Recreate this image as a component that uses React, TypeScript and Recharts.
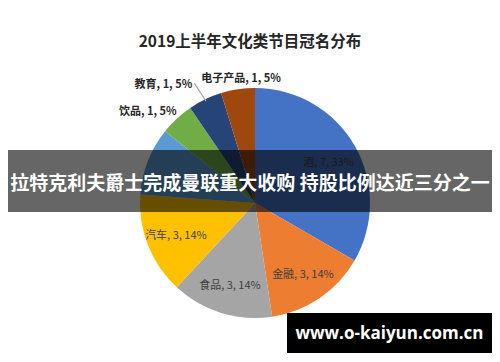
import React from "react";
import { PieChart, Pie, Cell } from "recharts";

const categories = ["酒", "金融", "食品", "汽车", "互联网", "饮品", "教育", "电子产品"];
const counts = [7, 3, 3, 3, 2, 1, 1, 1];
const colors = ["#4472C4", "#ED7D31", "#A5A5A5", "#FFC000", "#5B9BD5", "#70AD47", "#264478", "#9E480E"];

const title = "2019上半年文化类节目冠名分布";
const banner = "拉特克利夫爵士完成曼联重大收购 持股比例达近三分之一";
const site = "www.o-kaiyun.com.cn";

const data = categories.map((name, i) => ({ name, value: counts[i] }));

const RAD = Math.PI / 180;
const FONT = '"Noto Sans CJK SC", "Noto Sans", sans-serif';

// outside labels for the small slices
const outside: Record<number, { r: number; dx: number; anchor: string; leader?: boolean }> = {
    5: { r: 127, dx: 8, anchor: "end" },
    6: { r: 133, dx: -5, anchor: "end", leader: true },
    7: { r: 127, dx: 5, anchor: "middle" },
};

const renderLabel = (props: any) => {
    const { cx, cy, midAngle, outerRadius, percent, index, name, value } = props;
    if (index === 4) return null; // hidden under the banner
    const text = `${name}, ${value}, ${Math.round(percent * 100)}%`;
    const cos = Math.cos(-midAngle * RAD);
    const sin = Math.sin(-midAngle * RAD);
    const o = outside[index];
    if (!o) {
        const r = 85;
        return (
            <text x={cx + r * cos} y={cy + r * sin} textAnchor="middle" dominantBaseline="central"
                  fill="#404040" fontSize={11} fontFamily={FONT}>
                {text}
            </text>
        );
    }
    const x = cx + o.r * cos;
    const y = cy + o.r * sin;
    return (
        <g>
            {o.leader && (
                <line x1={cx + (outerRadius - 2) * cos} y1={cy + (outerRadius - 2) * sin} x2={x - 3} y2={y}
                      stroke="#a6a6a6" strokeWidth={1.2} />
            )}
            <text x={x + o.dx} y={y} textAnchor={o.anchor} dominantBaseline="central"
                  fill="#262626" fontSize={11} fontWeight="bold" fontFamily={FONT}>
                {text}
            </text>
        </g>
    );
};

export default function App() {
    return (
        <div style={{ position: "absolute", left: 0, top: 0, width: 500, height: 362, background: "#fff" }}>
            <div style={{
                position: "absolute", left: 0, top: 28, width: 500, textAlign: "center",
                fontFamily: FONT, fontWeight: "bold", fontSize: 15.5, color: "#262626", lineHeight: "24px",
            }}>
                {title}
            </div>
            <PieChart width={500} height={362}>
                <Pie
                    data={data}
                    dataKey="value"
                    nameKey="name"
                    cx={250}
                    cy={198}
                    outerRadius={115}
                    startAngle={90}
                    endAngle={-270}
                    stroke="none"
                    label={renderLabel}
                    labelLine={false}
                    isAnimationActive={false}
                >
                    {data.map((d, i) => (
                        <Cell key={d.name} fill={colors[i]} />
                    ))}
                </Pie>
            </PieChart>
            <div style={{
                position: "absolute", left: 8, top: 150, width: 484, height: 62,
                background: "rgba(0,0,0,0.6)", color: "#fff", fontFamily: FONT, fontWeight: "bold",
                fontSize: 19, lineHeight: "64px", textAlign: "center", whiteSpace: "nowrap",
            }}>
                {banner}
            </div>
            <div style={{
                position: "absolute", left: 287, top: 313, width: 205, height: 40,
                background: "#000", color: "#fff", fontFamily: '"Open Sans", sans-serif', fontWeight: "bold",
                fontSize: 17, lineHeight: "40px", textAlign: "center", whiteSpace: "nowrap",
            }}>
                {site}
            </div>
        </div>
    );
}
